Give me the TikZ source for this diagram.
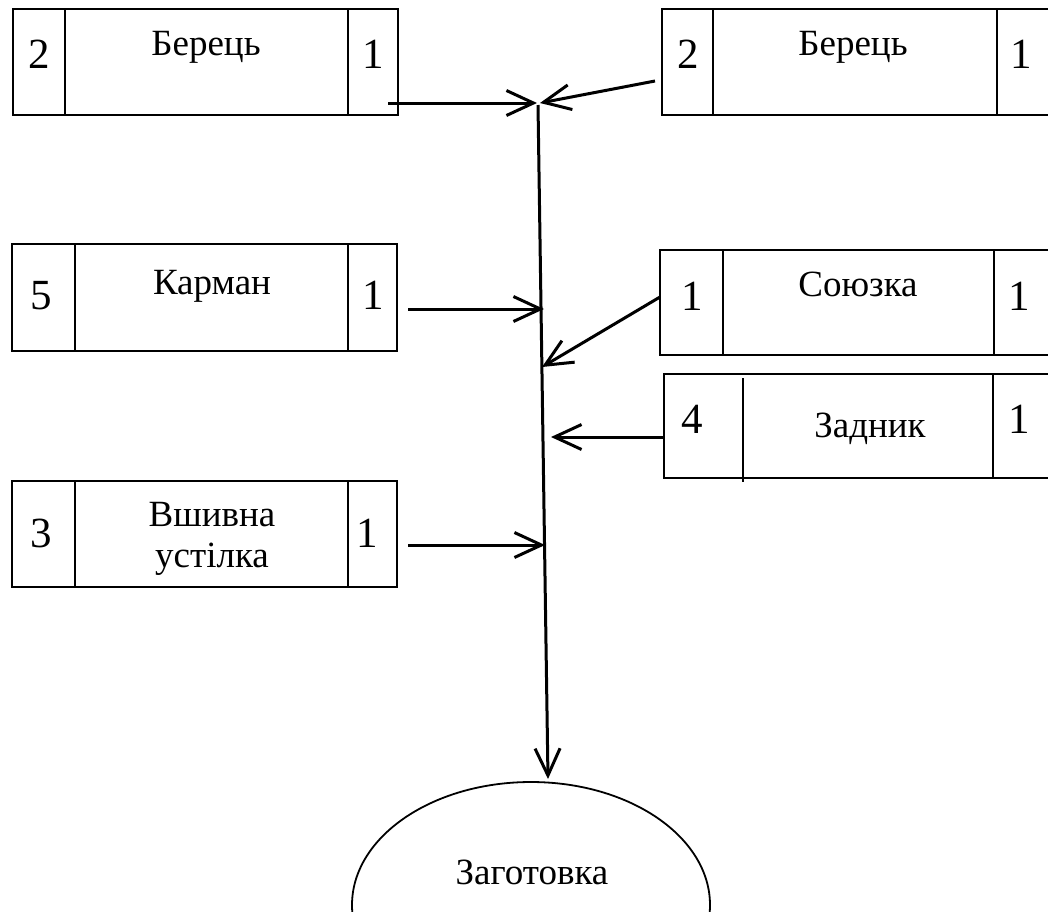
\documentclass[tikz,border=0pt]{standalone}
\usepackage{fontspec}
\setmainfont{Liberation Serif}
\usetikzlibrary{arrows.meta,shapes.geometric}
\begin{document}
\begin{tikzpicture}[x=1pt,y=-1pt,
  frame/.style={draw,line width=2pt,inner sep=0pt,outer sep=0pt,anchor=north west},
  rule/.style={line width=2pt},
  num/.style={font=\fontsize{43}{48}\selectfont,inner sep=0pt,anchor=base},
  word/.style={font=\fontsize{37}{41}\selectfont,inner sep=0pt,anchor=base},
  arr/.style={line width=3pt,-{Straight Barb[length=27pt,width=25pt]}}]
\useasboundingbox (0,0) rectangle (1048,911);
\clip (0,0) rectangle (1048,911);

% --- box 1: Берець (left)
\node[frame,minimum width=385pt,minimum height=106pt] (b1) at (13,9) {};
\draw[rule] (65,9) -- (65,115);
\draw[rule] (348,9) -- (348,115);
\node[num] (b1a) at (39,68) {2};
\node[word] (b1b) at (206,55) {Берець};
\node[num] (b1c) at (373,68) {1};

% --- box 2: Берець (right)
\node[frame,minimum width=400pt,minimum height=106pt] (b2) at (662,9) {};
\draw[rule] (713,9) -- (713,115);
\draw[rule] (997,9) -- (997,115);
\node[num] (b2a) at (688,68) {2};
\node[word] (b2b) at (853,55) {Берець};
\node[num] (b2c) at (1021,68) {1};

% --- box 3: Карман
\node[frame,minimum width=385pt,minimum height=107pt] (b3) at (12,244) {};
\draw[rule] (75,244) -- (75,351);
\draw[rule] (348,244) -- (348,351);
\node[num] (b3a) at (41,309) {5};
\node[word] (b3b) at (212,294) {Карман};
\node[num] (b3c) at (373,309) {1};

% --- box 4: Союзка
\node[frame,minimum width=400pt,minimum height=105pt] (b4) at (660,250) {};
\draw[rule] (723,250) -- (723,355);
\draw[rule] (994,250) -- (994,355);
\node[num] (b4a) at (692,310) {1};
\node[word] (b4b) at (858,296) {Союзка};
\node[num] (b4c) at (1019,310) {1};

% --- box 5: Задник
\node[frame,minimum width=400pt,minimum height=104pt] (b5) at (664,374) {};
\draw[rule] (743,378) -- (743,482);
\draw[rule] (993,374) -- (993,478);
\node[num] (b5a) at (692,433) {4};
\node[word] (b5b) at (870,437) {Задник};
\node[num] (b5c) at (1019,433) {1};

% --- box 6: Вшивна устілка
\node[frame,minimum width=385pt,minimum height=106pt] (b6) at (12,481) {};
\draw[rule] (75,481) -- (75,587);
\draw[rule] (348,481) -- (348,587);
\node[num] (b6a) at (41,547) {3};
\node[word] (b6b) at (212,526) {Вшивна};
\node[word] (b6c) at (212,567) {устілка};
\node[num] (b6d) at (367,547) {1};

% --- ellipse
\node[draw,ellipse,line width=1.8pt,minimum width=358pt,minimum height=246pt,inner sep=0pt] (ell) at (531,905) {};
\node[word] (ellt) at (532,884) {Заготовка};

% --- connector end points
\coordinate (a1s) at (388,103);
\coordinate (a1e) at (537,103);
\coordinate (a2s) at (655,81);
\coordinate (a2e) at (540,103);
\coordinate (mtop) at (538,105);
\coordinate (mbot) at (548,779);
\coordinate (a3s) at (408,309);
\coordinate (a3e) at (544,309);
\coordinate (a4s) at (660,297);
\coordinate (a4e) at (542,367);
\coordinate (a5s) at (664,437);
\coordinate (a5e) at (551,437);
\coordinate (a6s) at (408,545);
\coordinate (a6e) at (545,545);

% --- connectors
\draw[arr] (a1s) -- (a1e);
\draw[arr] (a2s) -- (a2e);
\draw[arr] (mtop) -- (mbot);
\draw[arr] (a3s) -- (a3e);
\draw[arr] (a4s) -- (a4e);
\draw[arr] (a5s) -- (a5e);
\draw[arr] (a6s) -- (a6e);
\end{tikzpicture}
\end{document}
